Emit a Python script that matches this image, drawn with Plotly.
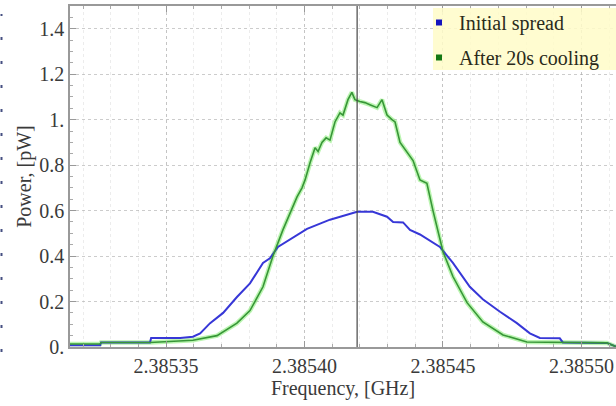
import plotly.graph_objects as go

# Blue: initial spread
freq_initial = [2.3853153, 2.3853262, 2.3853265, 2.3853442, 2.3853446, 2.3853551,
                2.3853597, 2.3853623, 2.3853659, 2.3853706, 2.3853756, 2.3853803,
                2.3853850, 2.3853875, 2.3853904, 2.3853958, 2.3854009, 2.3854092,
                2.3854153, 2.3854190, 2.3854247, 2.3854298, 2.3854320, 2.3854356,
                2.3854381, 2.3854417, 2.3854489, 2.3854536, 2.3854597, 2.3854644,
                2.3854706, 2.3854767, 2.3854814, 2.3854850, 2.3854922, 2.3854933,
                2.3855092, 2.3855125]
power_initial = [0.008, 0.008, 0.02, 0.02, 0.04, 0.04,
                 0.045, 0.06, 0.105, 0.15, 0.22, 0.28,
                 0.37, 0.39, 0.44, 0.48, 0.52, 0.56,
                 0.58, 0.595, 0.595, 0.573, 0.55, 0.548,
                 0.515, 0.495, 0.44, 0.37, 0.265, 0.21,
                 0.155, 0.105, 0.06, 0.04, 0.038, 0.02,
                 0.018, 0.002]

# Green: after 20s cooling
freq_cooled = [2.3853153, 2.3853262, 2.3853265, 2.3853442, 2.3853597, 2.3853684,
               2.3853756, 2.3853803, 2.3853850, 2.3853886, 2.3853922, 2.3853937,
               2.3853973, 2.3853991, 2.3854002, 2.3854020, 2.3854038, 2.3854049,
               2.3854063, 2.3854078, 2.3854092, 2.3854110, 2.3854128, 2.3854139,
               2.3854146, 2.3854157, 2.3854171, 2.3854182, 2.3854200, 2.3854218,
               2.3854236, 2.3854262, 2.3854280, 2.3854291, 2.3854298, 2.3854316,
               2.3854327, 2.3854345, 2.3854392, 2.3854417, 2.3854442, 2.3854464,
               2.3854500, 2.3854536, 2.3854587, 2.3854644, 2.3854717, 2.3854803,
               2.3854969, 2.3855092, 2.3855125]
power_cooled = [0.013, 0.013, 0.02, 0.02, 0.03, 0.05,
                0.105, 0.16, 0.265, 0.40, 0.515, 0.56,
                0.66, 0.70, 0.735, 0.81, 0.877, 0.86,
                0.90, 0.92, 0.91, 0.99, 1.03, 1.02,
                1.044, 1.088, 1.12, 1.088, 1.08, 1.075,
                1.066, 1.053, 1.088, 1.04, 1.02, 1.0,
                0.99, 0.90, 0.82, 0.735, 0.72, 0.60,
                0.42, 0.31, 0.195, 0.11, 0.053, 0.022,
                0.018, 0.018, 0.002]

marker_freq = 2.3854190

x_ticks = [2.38535, 2.38540, 2.38545, 2.38550]
x_ticktext = ["2.38535", "2.38540", "2.38545", "2.38550"]
y_ticks = [0, 0.2, 0.4, 0.6, 0.8, 1.0, 1.2, 1.4]
y_ticktext = ["0.", "0.2", "0.4", "0.6", "0.8", "1.", "1.2", "1.4"]

BLUE = "rgb(55,55,215)"
GREEN = "rgb(55,150,55)"
GREEN_GLOW = "rgba(120,235,100,0.5)"

fig = go.Figure()
fig.add_trace(go.Scatter(x=freq_cooled, y=power_cooled, mode="lines",
                         line=dict(color=GREEN_GLOW, width=4.5), showlegend=False,
                         hoverinfo="skip"))
fig.add_trace(go.Scatter(x=freq_initial, y=power_initial, mode="lines",
                         line=dict(color=BLUE, width=2), name="Initial spread",
                         showlegend=False))
fig.add_trace(go.Scatter(x=freq_cooled, y=power_cooled, mode="lines",
                         line=dict(color=GREEN, width=1.6), name="After 20s cooling",
                         showlegend=False))
fig.add_trace(go.Scatter(x=[None], y=[None], mode="markers", legendgroup="a",
                         marker=dict(symbol="square", size=6, color="rgb(20,20,190)"),
                         name="Initial spread"))
fig.add_trace(go.Scatter(x=[None], y=[None], mode="markers", legendgroup="b",
                         marker=dict(symbol="square", size=6, color="rgb(20,120,20)"),
                         name="After 20s cooling"))

fig.add_vline(x=marker_freq, line=dict(color="rgb(70,70,70)", width=1.2))

# legend background box
fig.add_shape(type="rect", xref="paper", yref="paper", layer="above",
              x0=(433 - 70) / 546, x1=1.0, y0=(347 - 70) / 341, y1=(347 - 8) / 341,
              fillcolor="rgba(255,252,200,0.85)", line=dict(width=0))

# left-edge dashed artifact
fig.add_shape(type="line", xref="paper", yref="paper",
              x0=-68.5 / 546, x1=-68.5 / 546, y0=-5 / 341, y1=(347 - 14) / 341,
              line=dict(color="rgb(70,80,130)", width=2, dash="3px,21px"))

serif = "Liberation Serif, Times New Roman, serif"
axis_font = dict(family=serif, size=20, color="#3a3a3a")

fig.update_layout(
    width=616, height=406,
    margin=dict(l=70, r=0, t=6, b=59, autoexpand=False),
    paper_bgcolor="white", plot_bgcolor="white",
    font=dict(family=serif, size=20, color="#333"),
    legend=dict(x=(419 - 70) / 546, y=(347 - 3) / 341, xanchor="left", yanchor="top",
                bgcolor="rgba(0,0,0,0)", borderwidth=0,
                font=dict(family=serif, size=20, color="#2a2a1a"), itemwidth=30,
                traceorder="grouped", tracegroupgap=6),
    xaxis=dict(range=[2.3853153, 2.3855125], tickvals=x_ticks, ticktext=x_ticktext,
               automargin=False,
               ticks="inside", ticklen=6, tickcolor="#999",
               showline=True, linecolor="#999", linewidth=1.5, mirror="ticks",
               showgrid=True, gridcolor="rgba(170,170,170,0.6)", griddash="dot",
               zeroline=False, tickfont=axis_font,
               minor=dict(dtick=0.00001, tick0=2.38535, ticks="inside", ticklen=3,
                          tickcolor="#aaa", showgrid=True,
                          gridcolor="rgba(200,200,200,0.35)", griddash="dot"),
               title=dict(text="Frequency, [GHz]", font=axis_font, standoff=4)),
    yaxis=dict(range=[0, 1.5], tickvals=y_ticks, ticktext=y_ticktext,
               automargin=False,
               ticks="inside", ticklen=6, tickcolor="#999",
               showline=True, linecolor="#999", linewidth=1.5, mirror=False,
               showgrid=True, gridcolor="rgba(170,170,170,0.6)", griddash="dot",
               zeroline=False, tickfont=axis_font,
               minor=dict(dtick=0.05, tick0=0, ticks="inside", ticklen=3,
                          tickcolor="#aaa"),
               title=dict(text="Power, [pW]", font=axis_font, standoff=2)),
)

fig.write_html("out.html")
